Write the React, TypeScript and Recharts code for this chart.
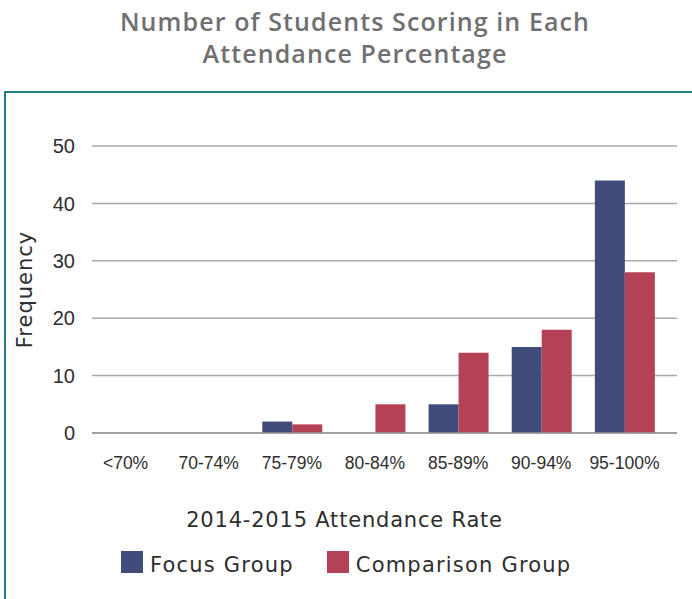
import { BarChart, Bar, XAxis, YAxis, CartesianGrid, Legend } from "recharts";

const categories = ["<70%", "70-74%", "75-79%", "80-84%", "85-89%", "90-94%", "95-100%"];
const focusGroup = [0, 0, 2, 0, 5, 15, 44];
const comparisonGroup = [0, 0, 1.5, 5, 14, 18, 28];
const yTicks = [0, 10, 20, 30, 40, 50];

const FOCUS_COLOR = "#414c7a";
const COMPARISON_COLOR = "#b54157";
const TEAL = "#1f7d80";
const TEXT = "#2e2e2e";

const data = categories.map((range, i) => ({
    range,
    focus: focusGroup[i],
    comparison: comparisonGroup[i],
}));

// legend drawn by hand so the swatches sit like in the original
function LegendContent() {
    const items = [
        { label: "Focus Group", color: FOCUS_COLOR },
        { label: "Comparison Group", color: COMPARISON_COLOR },
    ];
    return (
        <div style={{ display: "flex", alignItems: "flex-end" }}>
            {items.map((it, i) => (
                <div
                    key={it.label}
                    style={{ display: "flex", alignItems: "flex-end", marginLeft: i === 0 ? 0 : 33 }}
                >
                    <span style={{ width: 22, height: 22, background: it.color, display: "inline-block" }} />
                    <span
                        style={{
                            marginLeft: 7,
                            fontFamily: "DejaVu Sans, sans-serif",
                            fontSize: 21,
                            letterSpacing: 1.2,
                            color: TEXT,
                            lineHeight: "21px",
                            position: "relative",
                            top: 3,
                        }}
                    >
                        {it.label}
                    </span>
                </div>
            ))}
        </div>
    );
}

function FrequencyLabel(props: any) {
    const vb = props.viewBox || {};
    const x = (vb.x ?? 0) + 25;
    const y = (vb.y ?? 0) + (vb.height ?? 0) / 2;
    return (
        <text
            x={x}
            y={y}
            transform={`rotate(-90, ${x}, ${y})`}
            textAnchor="middle"
            dominantBaseline="central"
            fontFamily="DejaVu Sans, sans-serif"
            fontSize={21}
            letterSpacing={1}
            fill={TEXT}
        >
            Frequency
        </text>
    );
}

export default function App() {
    return (
        <div style={{ position: "absolute", left: 0, top: 0, width: 692, height: 599, background: "#fff", overflow: "hidden" }}>
            {/* Title */}
            <div
                style={{
                    position: "absolute",
                    left: 0,
                    top: 5,
                    width: 710,
                    textAlign: "center",
                    fontFamily: "Open Sans, sans-serif",
                    fontWeight: 600,
                    fontSize: 25,
                    letterSpacing: 1.1,
                    lineHeight: "32px",
                    color: "#707070",
                }}
            >
                Number of Students Scoring in Each
                <br />
                Attendance Percentage
            </div>

            {/* teal frame */}
            <div
                style={{
                    position: "absolute",
                    left: 4,
                    top: 91,
                    width: 700,
                    height: 600,
                    borderTop: `2px solid ${TEAL}`,
                    borderLeft: `2px solid ${TEAL}`,
                }}
            />

            <div style={{ position: "absolute", left: 0, top: 0 }}>
                <BarChart
                    width={692}
                    height={599}
                    data={data}
                    margin={{ top: 146, right: 15, left: 0, bottom: 126 }}
                    barGap={0}
                    barSize={30}
                >
                    <CartesianGrid vertical={false} stroke="#a9a9a9" strokeWidth={1.5} />
                    <XAxis
                        dataKey="range"
                        height={40}
                        padding={{ left: -8, right: 11 }}
                        tickLine={false}
                        tickSize={0}
                        tickMargin={24}
                        axisLine={{ stroke: "#999", strokeWidth: 1.5 }}
                        tick={{ fontSize: 17.5, fill: TEXT, fontFamily: "Liberation Sans, Arial, sans-serif" }}
                        interval={0}
                        label={{
                            value: "2014-2015 Attendance Rate",
                            position: "bottom",
                            offset: 39,
                            dx: -40,
                            fontSize: 21,
                            letterSpacing: 0.8,
                            fill: TEXT,
                            fontFamily: "DejaVu Sans, sans-serif",
                        }}
                    />
                    <YAxis
                        width={92}
                        domain={[0, 50]}
                        ticks={yTicks}
                        tickLine={false}
                        tickSize={0}
                        tickMargin={17}
                        axisLine={false}
                        tick={{ fontSize: 20, fill: TEXT, fontFamily: "Liberation Sans, Arial, sans-serif" }}
                        label={<FrequencyLabel />}
                    />
                    <Legend
                        layout="horizontal"
                        verticalAlign="middle"
                        align="center"
                        wrapperStyle={{ position: "absolute", left: 121, top: 551, width: 520 }}
                        content={<LegendContent />}
                    />
                    <Bar dataKey="focus" name="Focus Group" fill={FOCUS_COLOR} isAnimationActive={false} />
                    <Bar dataKey="comparison" name="Comparison Group" fill={COMPARISON_COLOR} isAnimationActive={false} />
                </BarChart>
            </div>
        </div>
    );
}
